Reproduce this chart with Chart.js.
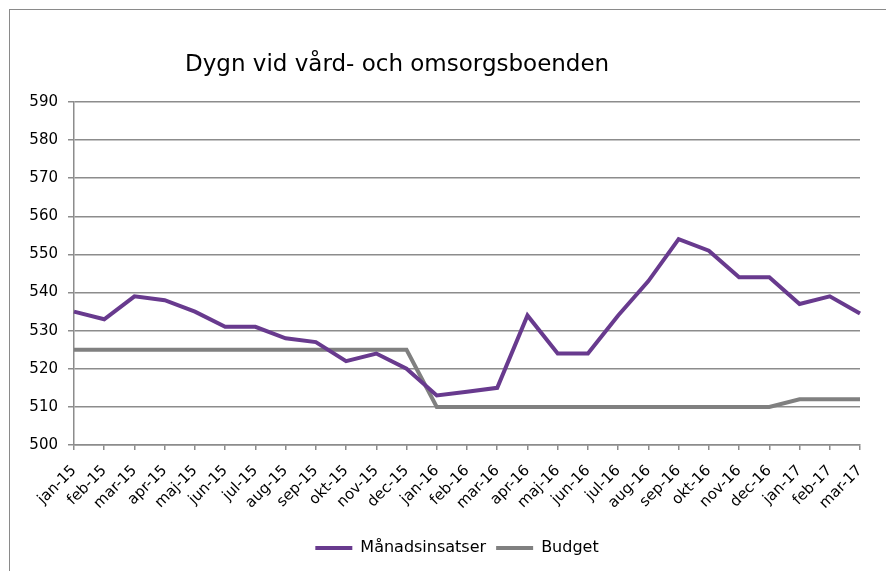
<!DOCTYPE html>
<html>
<head>
<meta charset="utf-8">
<script src="https://cdn.jsdelivr.net/npm/chart.js@4"></script>
<style>
  html, body { margin: 0; padding: 0; background: #fff; overflow: hidden; }
  #frame {
    position: absolute; left: 9px; top: 9px;
    width: 900px; height: 600px;
    border-left: 1px solid #8a8a8a; border-top: 1px solid #8a8a8a;
  }
  #wrap { position: absolute; left: 0; top: 0; width: 876px; height: 561px; }
</style>
</head>
<body>
<div id="frame">
  <div id="wrap"><canvas id="myChart"></canvas></div>
</div>
<script>
const chartTitle = 'Dygn vid vård- och omsorgsboenden'
const months = ['jan-15', 'feb-15', 'mar-15', 'apr-15', 'maj-15', 'jun-15', 'jul-15', 'aug-15', 'sep-15',
  'okt-15', 'nov-15', 'dec-15', 'jan-16', 'feb-16', 'mar-16', 'apr-16', 'maj-16', 'jun-16', 'jul-16',
  'aug-16', 'sep-16', 'okt-16', 'nov-16', 'dec-16', 'jan-17', 'feb-17', 'mar-17']
const manadsinsatser = [535, 533, 539, 538, 535, 531, 531, 528, 527, 522, 524, 520, 513, 514, 515, 534,
  524, 524, 534, 543, 554, 551, 544, 544, 537, 539, 534.5]
const budget = [525, 525, 525, 525, 525, 525, 525, 525, 525, 525, 525, 525, 510, 510, 510, 510,
  510, 510, 510, 510, 510, 510, 510, 510, 512, 512, 512]
const yMin = 500
const yMax = 590
const yStep = 10

const font = "'DejaVu Sans', sans-serif"
const gridColor = '#8c8c8c'

// title drawn by hand so it can sit left of centre like the original,
// and the legend nudged right to where Excel put it
const chromePlugin = {
  id: 'chromePlugin',
  afterLayout(chart) {
    chart.legend.left += 22
    chart.legend.right += 22
  },
  afterDraw(chart) {
    const ctx = chart.ctx
    ctx.save()
    ctx.font = '23px ' + font
    ctx.fillStyle = '#000'
    ctx.textBaseline = 'alphabetic'
    ctx.textAlign = 'left'
    ctx.fillText(chartTitle, 175, 61)
    ctx.restore()
  }
}

var ctx = document.getElementById('myChart').getContext('2d')

var data = {
  labels: months,
  datasets: [{
    label: 'Månadsinsatser',
    data: manadsinsatser,
    borderColor: '#683a8e',
    backgroundColor: '#683a8e',
    borderWidth: 4,
    pointRadius: 0,
    tension: 0
  }, {
    label: 'Budget',
    data: budget,
    borderColor: '#808080',
    backgroundColor: '#808080',
    borderWidth: 4,
    pointRadius: 0,
    tension: 0
  }]
}

var myChart = new Chart(ctx, {
  type: 'line',
  data: data,
  options: {
    responsive: true,
    maintainAspectRatio: false,
    animation: false,
    layout: {
      padding: { left: 0, right: 26, top: 92, bottom: 5 }
    },
    plugins: {
      title: { display: false },
      tooltip: { enabled: false },
      legend: {
        position: 'bottom',
        labels: {
          usePointStyle: true,
          pointStyle: 'line',
          pointStyleWidth: 37,
          padding: 10,
          color: '#000',
          font: { family: font, size: 16 }
        }
      }
    },
    scales: {
      x: {
        offset: false,
        grid: {
          drawOnChartArea: false,
          drawTicks: true,
          tickLength: 5,
          color: gridColor,
          lineWidth: 1.5
        },
        border: { color: gridColor, width: 1.5 },
        ticks: {
          autoSkip: false,
          maxRotation: 45,
          minRotation: 45,
          padding: 12,
          color: '#000',
          font: { family: font, size: 15 }
        },
        afterFit: function (scale) { scale.height = 85 }
      },
      y: {
        min: yMin,
        max: yMax,
        ticks: {
          stepSize: yStep,
          padding: 10,
          color: '#000',
          font: { family: font, size: 15 }
        },
        grid: {
          color: gridColor,
          lineWidth: 1.5,
          tickLength: 6
        },
        border: { color: gridColor, width: 1.5 },
        afterFit: function (scale) { scale.width = 64 }
      }
    }
  },
  plugins: [chromePlugin]
})
</script>
</body>
</html>
